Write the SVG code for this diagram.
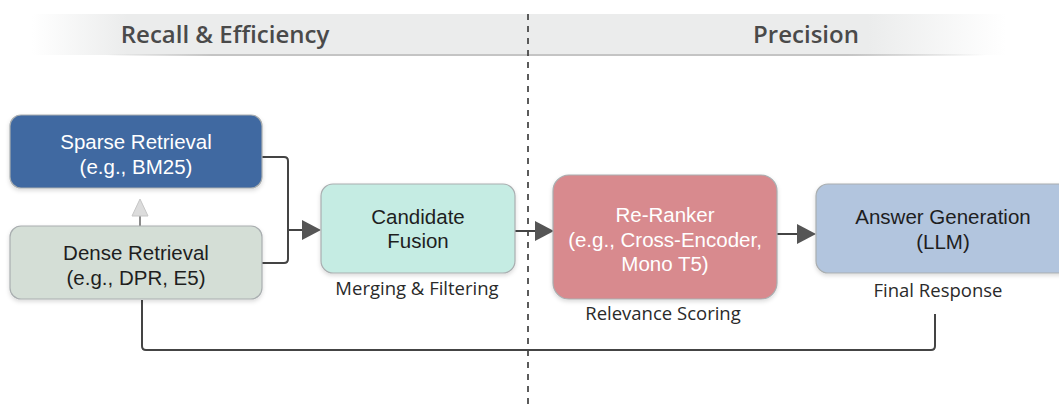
<svg xmlns="http://www.w3.org/2000/svg" width="1059" height="410" viewBox="0 0 1059 410">
  <defs>
    <linearGradient id="band" x1="0" y1="0" x2="1059" y2="0" gradientUnits="userSpaceOnUse">
      <stop offset="0.03" stop-color="#ebecec" stop-opacity="0"/>
      <stop offset="0.12" stop-color="#ebecec" stop-opacity="1"/>
      <stop offset="0.82" stop-color="#ebecec" stop-opacity="1"/>
      <stop offset="0.95" stop-color="#ebecec" stop-opacity="0"/>
    </linearGradient>
    <linearGradient id="bandline" x1="0" y1="0" x2="1059" y2="0" gradientUnits="userSpaceOnUse">
      <stop offset="0.1" stop-color="#c4c4c4" stop-opacity="0"/>
      <stop offset="0.2" stop-color="#c4c4c4" stop-opacity="1"/>
      <stop offset="0.8" stop-color="#c4c4c4" stop-opacity="1"/>
      <stop offset="0.93" stop-color="#c4c4c4" stop-opacity="0"/>
    </linearGradient>
    <filter id="sh" x="-10%" y="-10%" width="120%" height="130%">
      <feDropShadow dx="0" dy="2" stdDeviation="2" flood-color="#000" flood-opacity="0.15"/>
    </filter>
  </defs>
  <style>
    .hdr { font-family: "Open Sans", "Noto Sans", sans-serif; font-weight: 600; font-size: 24px; fill: #4a4a4a; text-anchor: middle; }
    .box { stroke: #a9aeb0; stroke-width: 1.2; filter: url(#sh); }
    .t { font-family: "Liberation Sans", Arial, sans-serif; font-size: 20.5px; text-anchor: middle; }
    .dark { fill: #1e1e1e; }
    .light { fill: #ffffff; }
    .lbl { font-family: "Open Sans", "Noto Sans", sans-serif; font-size: 18.5px; fill: #2a2a2a; text-anchor: middle; }
    .conn { fill: none; stroke: #444; stroke-width: 2; }
    .tri { fill: #555; }
  </style>
  <rect width="1059" height="410" fill="#fff"/>
  <!-- header band -->
  <rect x="0" y="14" width="1059" height="41" fill="url(#band)"/>
  <rect x="0" y="54" width="1059" height="2" fill="url(#bandline)"/>
  <text class="hdr" x="225" y="43">Recall &amp; Efficiency</text>
  <text class="hdr" x="806" y="43">Precision</text>
  <!-- divider -->
  <line x1="528" y1="14" x2="528" y2="410" stroke="#4a4a4a" stroke-width="1.8" stroke-dasharray="6,6"/>

  <g id="connectors">
    <path class="conn" d="M262,157 H284 Q288,157 288,161 V259 Q288,263 284,263 H262"/>
    <line class="conn" x1="288" y1="230" x2="304" y2="230"/>
    <path class="tri" d="M302,220 L321,230 L302,240 Z"/>
    <line class="conn" x1="515" y1="231" x2="537" y2="231"/>
    <path class="tri" d="M535,221 L554,231 L535,241 Z"/>
    <line class="conn" x1="777" y1="234" x2="799" y2="234"/>
    <path class="tri" d="M797,224 L816,234 L797,244 Z"/>
    <line x1="140" y1="216" x2="140" y2="226" stroke="#666" stroke-width="1.5"/>
    <path d="M132,216 L140,199 L148,216 Z" fill="#dcdcdc" stroke="#c6c6c6" stroke-width="1"/>
    <path class="conn" d="M935,314 V346 Q935,350 931,350 H146 Q142,350 142,346 V300"/>
  </g>

  <g id="sparse">
    <rect class="box" x="10" y="115" width="252" height="73" rx="11" fill="#4169a1" stroke="#3a5f92"/>
    <text class="t light" x="136" y="149">Sparse Retrieval</text>
    <text class="t light" x="136" y="174">(e.g., BM25)</text>
  </g>
  <g id="dense">
    <rect class="box" x="10" y="226" width="252" height="73" rx="11" fill="#d4ded6"/>
    <text class="t dark" x="136" y="260">Dense Retrieval</text>
    <text class="t dark" x="136" y="285">(e.g., DPR, E5)</text>
  </g>
  <g id="fusion">
    <rect class="box" x="321" y="184" width="194" height="89" rx="12" fill="#c5ece3"/>
    <text class="t dark" x="418" y="224">Candidate</text>
    <text class="t dark" x="418" y="248">Fusion</text>
    <text class="lbl" x="417" y="295">Merging &amp; Filtering</text>
  </g>
  <g id="reranker">
    <rect class="box" x="553" y="175" width="224" height="124" rx="16" fill="#d88a8e"/>
    <text class="t light" x="665" y="222">Re-Ranker</text>
    <text class="t light" x="665" y="247">(e.g., Cross-Encoder,</text>
    <text class="t light" x="665" y="271">Mono T5)</text>
    <text class="lbl" x="663" y="320">Relevance Scoring</text>
  </g>
  <g id="answer">
    <rect class="box" x="816" y="184" width="260" height="89" rx="12" fill="#b2c5de"/>
    <text class="t dark" x="943" y="224">Answer Generation</text>
    <text class="t dark" x="943" y="249">(LLM)</text>
    <text class="lbl" x="938" y="297">Final Response</text>
  </g>
</svg>
